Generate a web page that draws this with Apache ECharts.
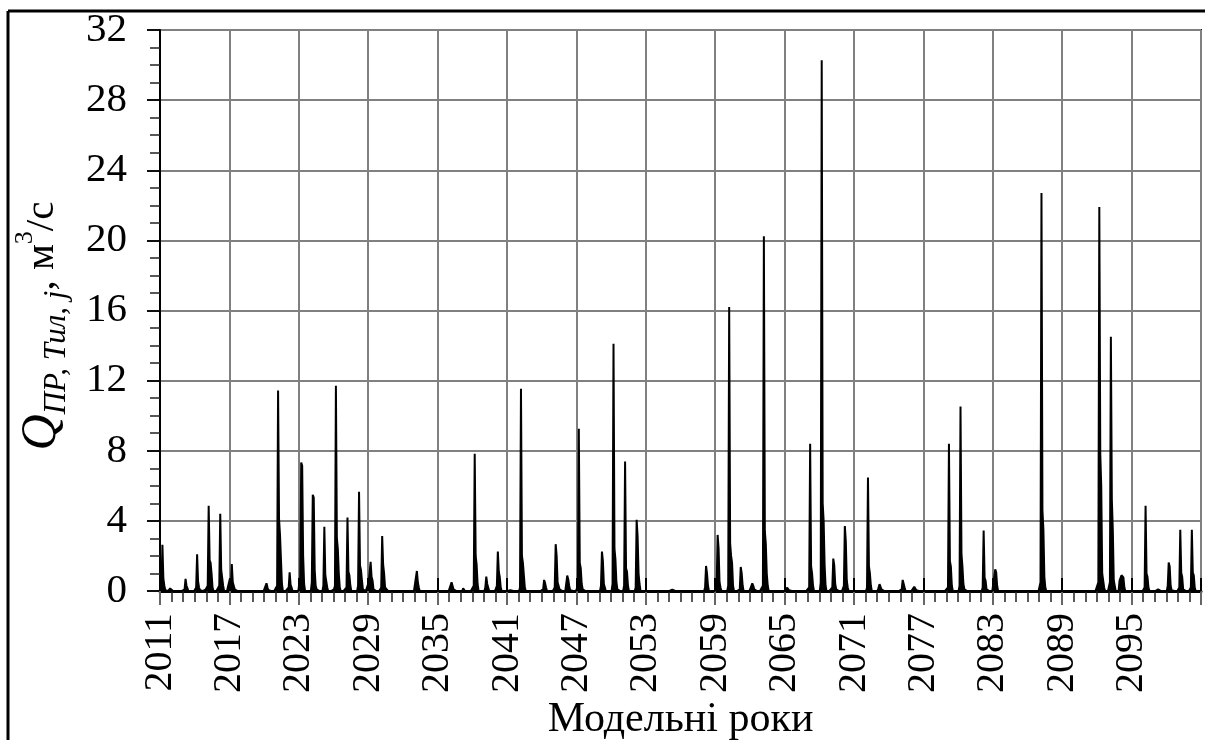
<!DOCTYPE html>
<html><head><meta charset="utf-8">
<script src="https://cdn.jsdelivr.net/npm/echarts/dist/echarts.min.js"></script>
<style>html,body{margin:0;padding:0;background:#fff}#c{width:1205px;height:740px}</style>
</head><body><div id="c"></div>
<script>
// Monthly discharge, m3/s; one row per year (Jan..Dec)
const startYear = 2011;
const Z = [0,0,0,0,0,0,0,0,0,0,0,0];
const q2011_2020 = [
  [0,0.3,2.63,0.7,0.3,0.05,0,0,0,0,0.15,0.2],
  [0.05,0,0,0.05,0,0,0,0,0,0,0,0],
  [0,0.1,0.69,0.3,0.15,0,0,0,0,0,0,0],
  [0,0.2,2.1,0.55,0.2,0.05,0,0,0,0,0,0.1],
  [0.1,0.3,4.86,1.75,1.6,1.0,0.2,0,0,0,0,0],
  [0,0.3,4.4,1.2,1.1,0.3,0,0,0,0,0,0],
  [0.7,0.3,1.54,0.5,0.45,0.1,0,0,0,0.05,0,0],
  Z,
  Z,
  [0,0.1,0.44,0.2,0.05,0,0,0,0,0,0,0]
];
const q2021_2030 = [
  [0,0.3,11.43,4.1,3.2,1.8,0.4,0,0,0,0,0],
  [0.1,0.2,1.07,0.35,0.2,0,0,0,0,0,0,0],
  [0,0.8,7.33,7.14,2.0,0.4,0,0,0,0,0,0],
  [0,0.5,5.49,5.33,1.2,0.3,0.1,0,0,0,0,0],
  [0,0.3,3.66,0.9,0.8,0.2,0,0,0,0,0,0],
  [0.1,0.3,11.71,3.0,2.4,1.0,0.2,0,0,0,0,0],
  [0,0.2,4.19,1.1,0.9,0.3,0,0,0,0,0,0],
  [0,0.3,5.66,1.45,1.2,0.6,0.1,0,0,0,0,0],
  [0.5,0.4,1.66,0.8,0.6,0.1,0,0,0,0,0,0],
  [0,0.2,3.14,1.5,1.0,0.2,0.1,0.1,0,0,0,0]
];
const q2031_2040 = [
  Z,
  Z,
  [0,0.1,1.14,0.5,0.2,0,0,0,0,0,0,0],
  Z,
  Z,
  [0,0.1,0.5,0.3,0.1,0,0,0,0,0,0,0],
  [0,0,0.15,0.1,0,0,0,0,0,0,0,0],
  [0,0.3,7.83,2.0,1.5,0.4,0,0,0,0,0,0],
  [0,0.2,0.82,0.4,0.3,0,0,0,0,0,0,0],
  [0,0.3,2.25,1.1,0.8,0.2,0,0,0,0,0,0]
];
const q2041_2050 = [
  [0,0,0.05,0.05,0,0,0,0,0,0,0,0],
  [0,0.2,11.54,2.0,1.6,0.9,0.2,0,0,0,0,0],
  Z,
  [0,0.1,0.63,0.45,0.2,0,0,0,0,0,0,0],
  [0,0.2,2.67,2.0,0.5,0.3,0.1,0,0,0,0,0],
  [0,0.1,0.88,0.67,0.3,0.05,0,0,0,0,0,0],
  [0,0.3,9.26,1.6,1.3,0.4,0.1,0,0,0,0,0],
  Z,
  [0,0.3,2.25,1.7,0.4,0.2,0,0,0,0,0,0],
  [0,0.4,14.1,2.4,1.8,0.5,0.1,0,0,0,0,0]
];
const q2051_2060 = [
  [0,0.3,7.39,1.3,1.1,0.3,0,0,0,0,0,0],
  [0,0.2,4.06,3.1,1.0,0.4,0,0,0,0,0,0],
  Z,
  Z,
  [0,0,0.1,0.08,0,0,0,0,0,0,0,0],
  Z,
  Z,
  [0,0.2,1.43,1.0,0.3,0,0,0,0,0,0,0],
  [0,0.3,3.2,2.45,0.5,0.2,0,0,0,0,0,0],
  [0,0.3,16.2,2.7,2.0,1.6,0.3,0,0,0,0,0]
];
const q2061_2070 = [
  [0,0.1,1.37,1.0,0.3,0,0,0,0,0,0,0],
  [0,0.1,0.44,0.3,0.1,0,0,0,0,0,0,0],
  [0,0.3,20.24,3.4,2.7,1.0,0.3,0,0,0,0,0],
  Z,
  [0,0,0.2,0.15,0.05,0,0,0,0,0,0,0],
  Z,
  [0,0.2,8.4,1.4,1.0,0.3,0,0,0,0,0,0],
  [0,0.5,30.27,5.0,4.0,1.5,0.3,0,0,0,0,0],
  [0,0.2,1.85,1.46,0.4,0.1,0,0,0,0,0,0],
  [0,0.3,3.7,2.84,0.6,0.2,0,0,0,0,0,0]
];
const q2071_2080 = [
  Z,
  [0,0.2,6.48,1.4,1.0,0.3,0,0,0,0,0,0],
  [0,0.1,0.39,0.3,0.1,0,0,0,0,0,0,0],
  Z,
  [0,0.1,0.63,0.53,0.2,0,0,0,0,0,0,0],
  [0,0.05,0.24,0.2,0.05,0,0,0,0,0,0,0],
  Z,
  Z,
  [0,0.2,8.4,1.7,1.4,0.3,0,0,0,0,0,0],
  [0,0.3,10.53,2.1,1.4,0.4,0.1,0,0,0,0,0]
];
const q2081_2090 = [
  Z,
  [0,0.2,3.45,0.75,0.6,0.1,0,0,0,0,0,0],
  [0,0.1,1.24,1.07,0.3,0,0,0,0,0,0,0],
  Z,
  Z,
  Z,
  [0,0.5,22.7,4.6,3.5,0.8,0.2,0,0,0,0,0],
  Z,
  Z,
  Z
];
const q2091_2100 = [
  Z,
  [0,0.5,21.9,7.83,6.0,1.0,0.9,0.2,0,0,0,0],
  [0,0.5,14.5,5.2,3.5,0.6,0.3,0,0,0,0,0.6],
  [0.6,0.9,0.9,0.78,0.2,0,0,0,0,0,0,0],
  Z,
  [0,0.2,4.86,1.0,0.8,0.2,0,0,0,0,0,0],
  [0,0.1,0.1,0.1,0.05,0,0,0,0,0,0,0],
  [0,0.3,1.62,1.4,0.3,0.05,0,0,0,0,0,0],
  [0,0.2,3.49,1.05,0.8,0.1,0,0,0,0,0,0],
  [0,0.2,3.49,1.05,0.9,0.2,0,0,0,0,0,0]
];
const yTicks = [0, 4, 8, 12, 16, 20, 24, 28, 32];
const xLabelStep = 6;   // years between labels
const yearsSpan = 90;   // 2011..2100

const rows = [].concat(q2011_2020, q2021_2030, q2031_2040, q2041_2050, q2051_2060,
                       q2061_2070, q2071_2080, q2081_2090, q2091_2100);
const seriesData = [];
rows.forEach((row, yi) => row.forEach((v, m) => seriesData.push([yi + (m + 0.5) / 12, v])));

const FONT = '"Liberation Serif", "Times New Roman", serif';
const chart = echarts.init(document.getElementById('c'), null, {renderer: 'canvas'});
const axisCommonX = {type: 'value', min: 0, max: yearsSpan, interval: xLabelStep};
chart.setOption({
  animation: false,
  backgroundColor: '#fff',
  grid: {left: 160, top: 30, right: 4, bottom: 149, containLabel: false, outerBoundsMode: 'none',
         show: true, borderColor: '#222', borderWidth: 2, backgroundColor: 'transparent'},
  xAxis: [
    Object.assign({}, axisCommonX, {
      position: 'bottom',
      name: 'Модельні роки', nameLocation: 'middle', nameGap: 108, nameMoveOverlap: false,
      nameTextStyle: {fontFamily: FONT, fontSize: 42, color: '#000'},
      axisLine: {show: true, onZero: false, lineStyle: {color: '#000', width: 3}},
      axisTick: {show: true, inside: false, length: 14, lineStyle: {color: '#666', width: 2}},
      minorTick: {show: true, splitNumber: 6, length: 11, lineStyle: {color: '#222', width: 1.5}},
      splitLine: {show: true, lineStyle: {color: '#808080', width: 2}},
      minorSplitLine: {show: false},
      axisLabel: {show: true, rotate: 90, margin: 22, fontFamily: FONT, fontSize: 40, color: '#000',
                  showMaxLabel: false, showMinLabel: true,
                  formatter: v => String(startYear + Math.round(v))}
    }),
    Object.assign({}, axisCommonX, {
      position: 'bottom',
      axisLine: {show: false, onZero: false},
      axisTick: {show: true, inside: true, length: 13, lineStyle: {color: '#000', width: 2}},
      splitLine: {show: false}, axisLabel: {show: false}
    })
  ],
  yAxis: [
    {
      type: 'value', min: yTicks[0], max: yTicks[yTicks.length - 1], interval: yTicks[1] - yTicks[0],
      axisLine: {show: true, onZero: false, lineStyle: {color: '#000', width: 2}},
      axisTick: {show: true, inside: false, length: 13, lineStyle: {color: '#000', width: 1.5}},
      minorTick: {show: true, splitNumber: 4, length: 10, lineStyle: {color: '#222', width: 1.5}},
      splitLine: {show: true, lineStyle: {color: '#808080', width: 2}},
      axisLabel: {margin: 33, fontFamily: FONT, fontSize: 41, color: '#000'}
    },
    {
      type: 'value', min: yTicks[0], max: yTicks[yTicks.length - 1], interval: yTicks[1] - yTicks[0],
      axisLine: {show: false},
      axisTick: {show: true, inside: true, length: 13, lineStyle: {color: '#000', width: 1.5}},
      splitLine: {show: false}, axisLabel: {show: false}
    }
  ],
  series: [{
    type: 'line', xAxisIndex: 0, yAxisIndex: 0, data: seriesData,
    showSymbol: false, symbol: 'none', smooth: false,
    lineStyle: {color: '#000', width: 2},
    areaStyle: {color: '#000', opacity: 1},
    z: 3
  }],
  graphic: [
    {type: 'line', shape: {x1: 8, y1: 11, x2: 1205, y2: 11}, style: {stroke: '#000', lineWidth: 3}},
    {type: 'line', shape: {x1: 8, y1: 11, x2: 8, y2: 740}, style: {stroke: '#000', lineWidth: 3}},
    {type: 'text', x: 42, y: 326, rotation: Math.PI / 2,
     style: {
       text: '{q|Q}{sub|ПР, Тил, j}{n|, м}{sup|3}{n|/с}',
       align: 'center', verticalAlign: 'middle', fill: '#000',
       rich: {
         q: {fontFamily: FONT, fontStyle: 'italic', fontSize: 50, lineHeight: 60, verticalAlign: 'middle'},
         sub: {fontFamily: FONT, fontStyle: 'italic', fontSize: 31, lineHeight: 30, verticalAlign: 'bottom'},
         n: {fontFamily: FONT, fontSize: 41, lineHeight: 40, verticalAlign: 'middle'},
         sup: {fontFamily: FONT, fontSize: 26, lineHeight: 22, verticalAlign: 'top'}
       }
     }}
  ]
});
</script></body></html>
